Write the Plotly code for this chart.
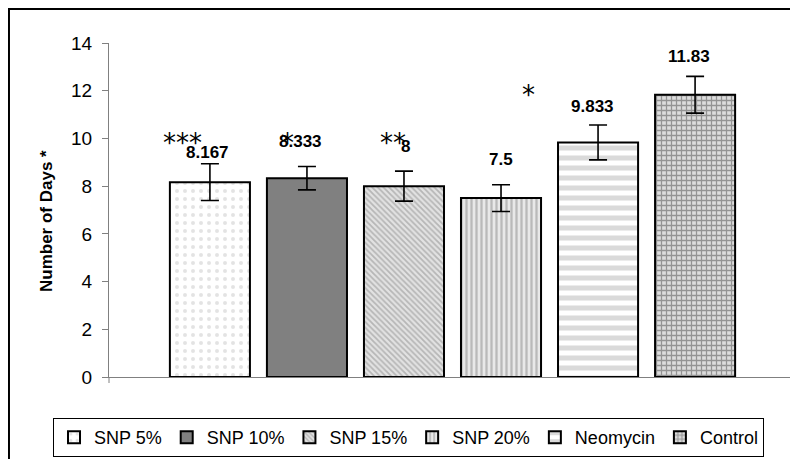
import plotly.graph_objects as go

# ---- data ----
categories = ["SNP 5%", "SNP 10%", "SNP 15%", "SNP 20%", "Neomycin", "Control"]
values = [8.167, 8.333, 8.0, 7.5, 9.833, 11.83]
errors = [0.77, 0.49, 0.63, 0.56, 0.73, 0.77]
value_labels = ["8.167", "8.333", "8", "7.5", "9.833", "11.83"]
y_ticks = [0, 2, 4, 6, 8, 10, 12, 14]
y_title = "Number of Days *"

# ---- styles ----
FONT = "Arial, 'Liberation Sans', sans-serif"
patterns = [
    dict(color="white", pattern=dict(shape=".", fgcolor="#c8c8c8", bgcolor="white", size=8, solidity=0.2)),
    dict(color="#808080", pattern=dict(shape="")),
    dict(color="#dcdcdc", pattern=dict(shape="\\", fgcolor="#8a8a8a", bgcolor="#e2e2e2", size=4, solidity=0.45)),
    dict(color="#e6e6e6", pattern=dict(shape="|", fgcolor="#8a8a8a", bgcolor="#e8e8e8", size=5, solidity=0.45)),
    dict(color="white", pattern=dict(shape="-", fgcolor="#b5b5b5", bgcolor="white", size=10, solidity=0.5)),
    dict(color="#d8d8d8", pattern=dict(shape="+", fgcolor="#4a4a4a", bgcolor="#dcdcdc", size=5, solidity=0.45)),
]
label_yshift = [11, 25, 25, 25, 19, 20]
label_xshift = [-2, -6, 2, 0, -6, -6]

fig = go.Figure()
for i, cat in enumerate(categories):
    fig.add_trace(go.Bar(
        x=[cat], y=[values[i]], name=cat, width=0.825,
        marker=dict(color=patterns[i]["color"], pattern=patterns[i]["pattern"],
                    line=dict(color="black", width=2)),
        error_y=dict(type="data", array=[errors[i]], color="black", thickness=1.6, width=9),
    ))

annotations = []
for i, cat in enumerate(categories):
    annotations.append(dict(
        x=i, y=values[i] + errors[i], xref="x", yref="y", text=value_labels[i],
        showarrow=False, yanchor="middle", yshift=label_yshift[i], xshift=label_xshift[i],
        font=dict(family=FONT, size=17, color="black", weight="bold"),
    ))

# significance asterisks
star_marks = [("***", -0.28, 9.8), ("*", 0.80, 9.8), ("**", 1.89, 9.8), ("*", 3.28, 11.82)]
for txt, sx, sy in star_marks:
    annotations.append(dict(
        x=sx, y=sy, xref="x", yref="y", text=txt, showarrow=False,
        font=dict(family="DejaVu Sans", size=26, color="black"),
    ))

# y-axis title
annotations.append(dict(
    x=-0.0917, y=0.467, xref="paper", yref="paper", text=y_title, textangle=-90,
    xanchor="center", yanchor="middle",
    showarrow=False, font=dict(family=FONT, size=17, color="black", weight="bold"),
))

shapes = [
    # outer chart border
    dict(type="rect", xref="paper", yref="paper", x0=-0.1456, x1=1.2, y0=-0.5, y1=1.1018,
         line=dict(color="black", width=2), fillcolor="rgba(0,0,0,0)", layer="below"),
    # x-axis end ticks
    dict(type="line", xref="paper", yref="paper", x0=0, x1=0, y0=0, y1=-0.018,
         line=dict(color="#808080", width=1)),
    dict(type="line", xref="paper", yref="paper", x0=1, x1=1, y0=0, y1=-0.018,
         line=dict(color="#808080", width=1)),
]

fig.update_layout(
    width=790, height=451,
    margin=dict(l=101, r=2, t=35, b=82, autoexpand=False),
    paper_bgcolor="white", plot_bgcolor="white",
    barmode="overlay",
    font=dict(family=FONT, color="black"),
    showlegend=True,
    legend=dict(orientation="h", x=-0.0815, xanchor="left", y=-0.1228, yanchor="top",
                bordercolor="black", borderwidth=1, bgcolor="white",
                font=dict(family=FONT, size=18, color="black"), traceorder="normal",
                itemwidth=30),
    annotations=annotations,
    shapes=shapes,
    xaxis=dict(type="category", range=[-1.04, 6.04], showticklabels=False, ticks="",
               showline=True, linecolor="#808080", linewidth=1, showgrid=False, zeroline=False),
    yaxis=dict(range=[0, 14], tickvals=y_ticks, ticks="outside", ticklen=6, tickcolor="#808080",
               showline=True, linecolor="#808080", linewidth=1, showgrid=False, zeroline=False,
               ticklabelstandoff=6,
               tickfont=dict(family=FONT, size=19, color="black")),
)

fig.write_html("out.html")
